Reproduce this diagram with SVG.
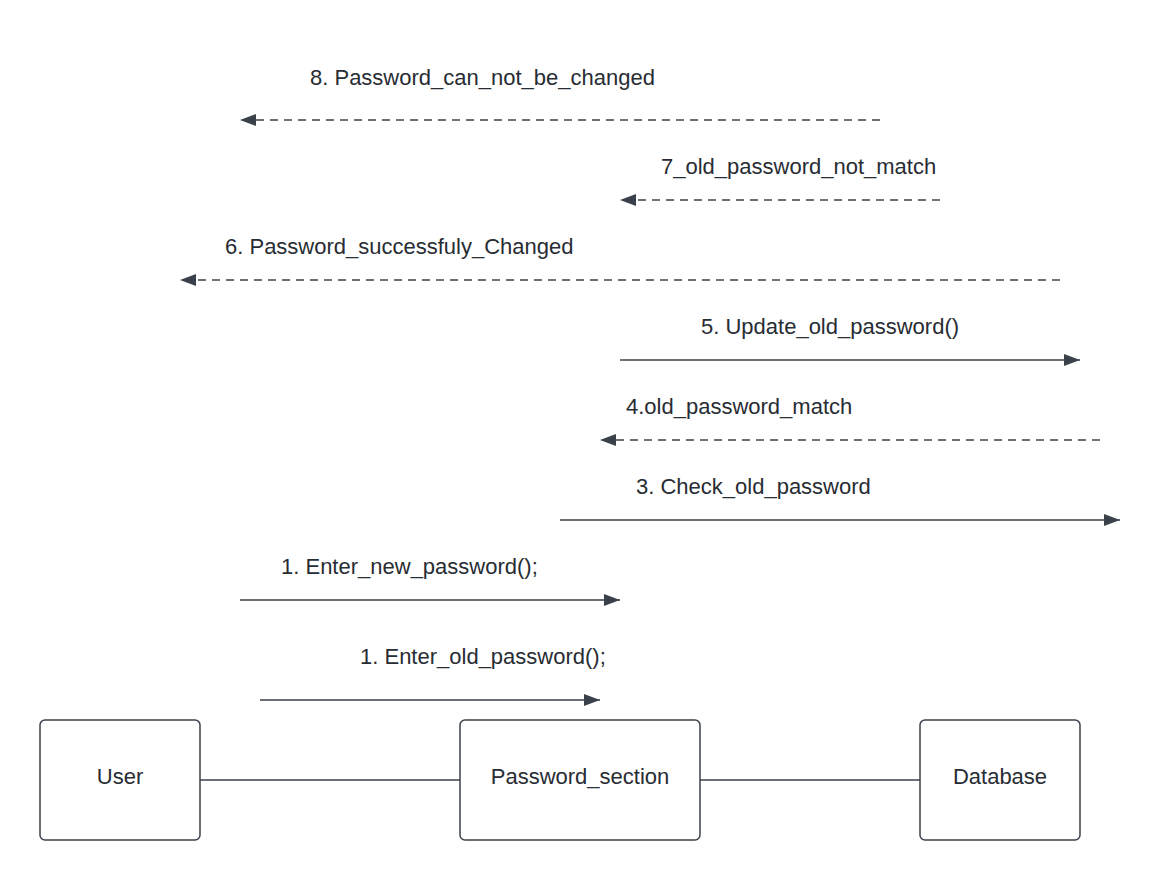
<svg xmlns="http://www.w3.org/2000/svg" width="1158" height="880" viewBox="0 0 1158 880">
<style>
.box{fill:#ffffff;stroke:#3a414a;stroke-width:1.5}
.lbl{font-family:"Liberation Sans",Arial,sans-serif;font-size:22px;fill:#282c33}
.ln{stroke:#3a414a;stroke-width:1.5;fill:none}
.sol{stroke:#3a414a;stroke-width:1.5;fill:none;marker-end:url(#ah)}
.dsh{stroke:#3a414a;stroke-width:1.5;fill:none;stroke-dasharray:8,6;marker-end:url(#ah)}
</style>
<defs>
<marker id="ah" viewBox="0 0 16 12" refX="16" refY="6" markerWidth="16" markerHeight="12" markerUnits="userSpaceOnUse" orient="auto">
<path d="M0,0 L16,6 L0,12 Z" fill="#3a414a"/>
</marker>
</defs>
<rect width="1158" height="880" fill="#ffffff"/>
<g id="connectors">
<line class="ln" x1="200" y1="780" x2="460" y2="780"/>
<line class="ln" x1="700" y1="780" x2="920" y2="780"/>
<line class="dsh" x1="880" y1="120" x2="240" y2="120"/>
<text class="lbl" x="310" y="85">8. Password_can_not_be_changed</text>
<line class="dsh" x1="940" y1="200" x2="620" y2="200"/>
<text class="lbl" x="661" y="174">7_old_password_not_match</text>
<line class="dsh" x1="1060" y1="280" x2="180" y2="280"/>
<text class="lbl" x="225" y="254">6. Password_successfuly_Changed</text>
<line class="sol" x1="620" y1="360" x2="1080" y2="360"/>
<text class="lbl" x="701" y="334">5. Update_old_password()</text>
<line class="dsh" x1="1100" y1="440" x2="600" y2="440"/>
<text class="lbl" x="626" y="414">4.old_password_match</text>
<line class="sol" x1="560" y1="520" x2="1120" y2="520"/>
<text class="lbl" x="636" y="494">3. Check_old_password</text>
<line class="sol" x1="240" y1="600" x2="620" y2="600"/>
<text class="lbl" x="281" y="574">1. Enter_new_password();</text>
<line class="sol" x1="260" y1="700" x2="600" y2="700"/>
<text class="lbl" x="360" y="664">1. Enter_old_password();</text>
</g>
<g id="user">
<rect class="box" x="40" y="720" width="160" height="120" rx="5"/>
<text class="lbl" x="120" y="784" text-anchor="middle">User</text>
</g>
<g id="password_section">
<rect class="box" x="460" y="720" width="240" height="120" rx="5"/>
<text class="lbl" x="580" y="784" text-anchor="middle">Password_section</text>
</g>
<g id="database">
<rect class="box" x="920" y="720" width="160" height="120" rx="5"/>
<text class="lbl" x="1000" y="784" text-anchor="middle">Database</text>
</g>
</svg>
